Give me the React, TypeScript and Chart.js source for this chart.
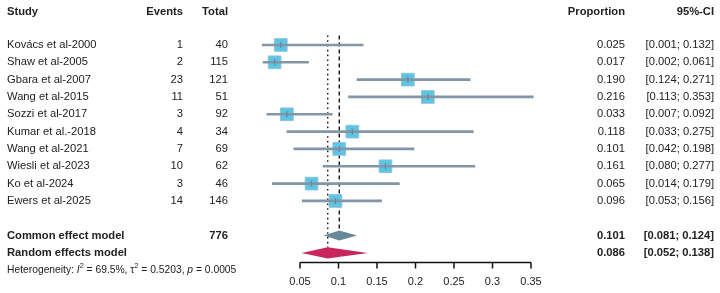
import { useEffect, useRef } from 'react';
import { Chart, registerables } from 'chart.js';

Chart.register(...registerables);

// Individual studies
const studies = [
  'Kovács et al-2000',
  'Shaw et al-2005',
  'Gbara et al-2007',
  'Wang et al-2015',
  'Sozzi et al-2017',
  'Kumar et al.-2018',
  'Wang et al-2021',
  'Wiesli et al-2023',
  'Ko et al-2024',
  'Ewers et al-2025',
];
const events = [1, 2, 23, 11, 3, 4, 7, 10, 3, 14];
const totals = [40, 115, 121, 51, 92, 34, 69, 62, 46, 146];
const proportions = [0.025, 0.017, 0.19, 0.216, 0.033, 0.118, 0.101, 0.161, 0.065, 0.096];
const ciLower = [0.001, 0.002, 0.124, 0.113, 0.007, 0.033, 0.042, 0.08, 0.014, 0.053];
const ciUpper = [0.132, 0.061, 0.271, 0.353, 0.092, 0.275, 0.198, 0.277, 0.179, 0.156];

// Pooled estimates: [estimate, lower, upper]
const commonTotal = 776;
const commonModel = [0.101, 0.081, 0.124];
const randomModel = [0.086, 0.052, 0.138];

// Heterogeneity statistics
const i2Text = '69.5%';
const tau2Text = '0.5203';
const pText = '0.0005';

// Axis ticks
const axisTicks = [0.05, 0.1, 0.15, 0.2, 0.25, 0.3, 0.35];
const tickLabels = ['0.05', '0.1', '0.15', '0.2', '0.25', '0.3', '0.35'];

// Row layout (row index on the y scale)
const HEADER_ROW = 0.08;
const FIRST_STUDY_ROW = 2;
const COMMON_ROW = 13;
const RANDOM_ROW = 14;
const HET_ROW = 15;
const AXIS_ROW = 14.53;
const TICK_LABEL_ROW = 15.7;
const REF_TOP_ROW = 1.45;

const FONT = '"Liberation Sans", Arial, Helvetica, sans-serif';
const TEXT_COLOR = '#222';
const CI_COLOR = 'rgb(130,150,168)';
const SQUARE_FILL = 'rgb(90,197,228)';
const SQUARE_BORDER = 'rgb(150,196,214)';
const COMMON_COLOR = 'rgb(104,136,156)';
const RANDOM_COLOR = 'rgb(200,38,92)';

const COL_STUDY = 7;
const COL_EVENTS = 183;
const COL_TOTAL = 228;
const COL_PROP = 625;
const COL_CI = 714;

const fmt3 = (v: number) => v.toFixed(3);
const ciText = (lo: number, hi: number) => `[${fmt3(lo)}; ${fmt3(hi)}]`;

const studyRows = studies.map((_, i) => FIRST_STUDY_ROW + i);

const forestPlugin = {
  id: 'forestDecorations',
  beforeDatasetsDraw(chart: any) {
    const { ctx } = chart;
    const x = chart.scales.x;
    const y = chart.scales.y;
    const top = y.getPixelForValue(REF_TOP_ROW);
    ctx.save();
    ctx.strokeStyle = '#151515';
    ctx.lineWidth = 1.4;
    // common effect reference (dashed)
    ctx.setLineDash([4, 3]);
    const cx = x.getPixelForValue(commonModel[0]);
    ctx.beginPath();
    ctx.moveTo(cx, top);
    ctx.lineTo(cx, y.getPixelForValue(COMMON_ROW) - 5);
    ctx.stroke();
    // random effects reference (dotted)
    ctx.setLineDash([1.6, 3.2]);
    const rx = x.getPixelForValue(randomModel[0]);
    ctx.beginPath();
    ctx.moveTo(rx, top);
    ctx.lineTo(rx, y.getPixelForValue(RANDOM_ROW) - 5.5);
    ctx.stroke();
    ctx.restore();
  },
  afterDatasetsDraw(chart: any) {
    const { ctx } = chart;
    const x = chart.scales.x;
    const y = chart.scales.y;

    const diamond = (model: number[], row: number, half: number, color: string) => {
      const yc = y.getPixelForValue(row);
      ctx.beginPath();
      ctx.moveTo(x.getPixelForValue(model[1]), yc);
      ctx.lineTo(x.getPixelForValue(model[0]), yc - half);
      ctx.lineTo(x.getPixelForValue(model[2]), yc);
      ctx.lineTo(x.getPixelForValue(model[0]), yc + half);
      ctx.closePath();
      ctx.fillStyle = color;
      ctx.fill();
    };
    ctx.save();
    diamond(commonModel, COMMON_ROW, 5, COMMON_COLOR);
    diamond(randomModel, RANDOM_ROW, 5.6, RANDOM_COLOR);

    // x axis
    const ay = Math.round(y.getPixelForValue(AXIS_ROW)) + 0.5;
    ctx.strokeStyle = '#111';
    ctx.lineWidth = 1.5;
    ctx.setLineDash([]);
    ctx.beginPath();
    ctx.moveTo(x.getPixelForValue(axisTicks[0]), ay);
    ctx.lineTo(x.getPixelForValue(axisTicks[axisTicks.length - 1]), ay);
    axisTicks.forEach((t) => {
      const tx = x.getPixelForValue(t);
      ctx.moveTo(tx, ay);
      ctx.lineTo(tx, ay + 6);
    });
    ctx.stroke();

    ctx.fillStyle = TEXT_COLOR;
    ctx.textBaseline = 'middle';
    ctx.textAlign = 'center';
    ctx.font = `11px ${FONT}`;
    const ly = y.getPixelForValue(TICK_LABEL_ROW);
    axisTicks.forEach((t, i) => ctx.fillText(tickLabels[i], x.getPixelForValue(t), ly));

    const text = (s: string, px: number, row: number, align: CanvasTextAlign, bold = false) => {
      ctx.font = `${bold ? 'bold ' : ''}11.2px ${FONT}`;
      ctx.textAlign = align;
      ctx.fillText(s, px, y.getPixelForValue(row));
    };

    // header
    text('Study', COL_STUDY, HEADER_ROW, 'left', true);
    text('Events', COL_EVENTS, HEADER_ROW, 'right', true);
    text('Total', COL_TOTAL, HEADER_ROW, 'right', true);
    text('Proportion', COL_PROP, HEADER_ROW, 'right', true);
    text('95%-CI', COL_CI, HEADER_ROW, 'right', true);

    // study rows
    studies.forEach((s, i) => {
      const row = studyRows[i];
      text(s, COL_STUDY, row, 'left');
      text(String(events[i]), COL_EVENTS, row, 'right');
      text(String(totals[i]), COL_TOTAL, row, 'right');
      text(fmt3(proportions[i]), COL_PROP, row, 'right');
      text(ciText(ciLower[i], ciUpper[i]), COL_CI, row, 'right');
    });

    // pooled rows
    text('Common effect model', COL_STUDY, COMMON_ROW, 'left', true);
    text(String(commonTotal), COL_TOTAL, COMMON_ROW, 'right', true);
    text(fmt3(commonModel[0]), COL_PROP, COMMON_ROW, 'right', true);
    text(ciText(commonModel[1], commonModel[2]), COL_CI, COMMON_ROW, 'right', true);
    text('Random effects model', COL_STUDY, RANDOM_ROW, 'left', true);
    text(fmt3(randomModel[0]), COL_PROP, RANDOM_ROW, 'right', true);
    text(ciText(randomModel[1], randomModel[2]), COL_CI, RANDOM_ROW, 'right', true);

    // heterogeneity line with italics and superscripts
    const hy = y.getPixelForValue(HET_ROW);
    let hx = COL_STUDY;
    ctx.textAlign = 'left';
    const seg = (s: string, style: 'n' | 'i' | 's') => {
      if (style === 's') {
        ctx.font = `7.2px ${FONT}`;
        ctx.fillText(s, hx, hy - 4);
      } else {
        ctx.font = `${style === 'i' ? 'italic ' : ''}10.3px ${FONT}`;
        ctx.fillText(s, hx, hy);
      }
      hx += ctx.measureText(s).width;
    };
    seg('Heterogeneity: ', 'n');
    seg('I', 'i');
    seg('2', 's');
    seg(` = ${i2Text}, τ`, 'n');
    seg('2', 's');
    seg(` = ${tau2Text}, `, 'n');
    seg('p', 'i');
    seg(` = ${pText}`, 'n');
    ctx.restore();
  },
};

export default function App() {
  const canvasRef = useRef<HTMLCanvasElement | null>(null);

  useEffect(() => {
    document.body.style.margin = '0';
    const canvas = canvasRef.current;
    if (!canvas) return;
    const points = proportions.map((p, i) => ({ x: p, y: studyRows[i] }));
    const chart = new Chart(canvas, {
      type: 'scatter',
      data: {
        datasets: [
          {
            type: 'bar',
            indexAxis: 'y',
            data: studies.map((_, i) => ({ x: [ciLower[i], ciUpper[i]], y: studyRows[i] })),
            backgroundColor: CI_COLOR,
            borderWidth: 0,
            barThickness: 2,
            order: 1,
          } as any,
          {
            type: 'scatter',
            data: points,
            pointStyle: 'rect',
            radius: 9,
            backgroundColor: SQUARE_FILL,
            borderColor: SQUARE_BORDER,
            borderWidth: 1,
            order: 2,
          },
          {
            type: 'scatter',
            data: points,
            pointStyle: 'line',
            rotation: 90,
            radius: 3,
            borderColor: 'rgb(110,130,150)',
            borderWidth: 1.2,
            order: 0,
          },
        ],
      },
      options: {
        responsive: false,
        animation: false,
        events: [],
        layout: { autoPadding: false, padding: { left: 261.5, right: 181.3, top: 0, bottom: 0 } },
        scales: {
          x: { type: 'linear', min: 0, max: 0.36, display: false, offset: false },
          y: { type: 'linear', min: -0.594, max: 16.312, reverse: true, display: false, offset: false },
        },
        plugins: { legend: { display: false }, tooltip: { enabled: false } },
      },
      plugins: [forestPlugin],
    });
    return () => chart.destroy();
  }, []);

  return (
    <div style={{ width: 720, height: 293, background: '#fff' }}>
      <canvas ref={canvasRef} width={720} height={293} style={{ display: 'block' }} />
    </div>
  );
}
